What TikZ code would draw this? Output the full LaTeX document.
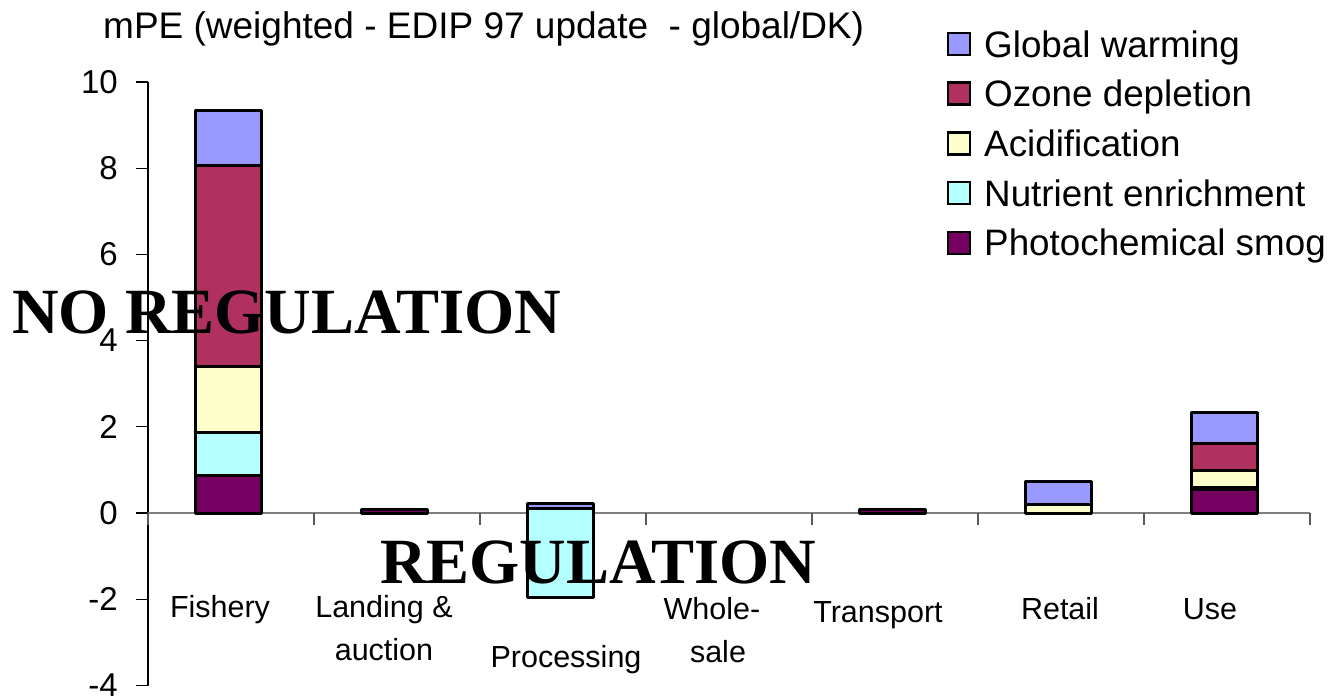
\documentclass[tikz,border=0pt]{standalone}
\usepackage{fontspec}
\setmainfont{Liberation Sans}
\newfontfamily\headserif{Liberation Serif}
\definecolor{gwcol}{HTML}{9999FF}
\definecolor{odcol}{HTML}{B03060}
\definecolor{accol}{HTML}{FFFFCC}
\definecolor{necol}{HTML}{B4FFFF}
\definecolor{pscol}{HTML}{760062}
% one stacked segment: colour, bar centre (px), lower value, upper value
\newcommand\barseg[4]{%
  \filldraw[segbox,fill=#1] ({#2-33},{513-43.1*#3}) rectangle ({#2+33},{513-43.1*#4});}
\begin{document}
\begin{tikzpicture}[x=1pt,y=-1pt,
  segbox/.style={draw=black,line width=3pt,line join=round},
  catlbl/.style={font=\fontsize{30.5}{36}\selectfont,inner sep=0pt,anchor=base},
  ticklbl/.style={font=\fontsize{33}{38}\selectfont,inner sep=0pt,anchor=east},
  leglbl/.style={font=\fontsize{36.8}{42}\selectfont,inner sep=0pt,anchor=base west},
  legbox/.style={draw=black,line width=2.5pt},
  bigword/.style={font=\headserif\bfseries\fontsize{64.5}{70}\selectfont,inner sep=0pt,anchor=base west}]
\useasboundingbox[fill=white] (0,0) rectangle (1336,699);

% value axis
\draw[black,line width=1.2pt] (148,82) -- (148,686);
\foreach \v/\t in {10/10,8/8,6/6,4/4,2/2,0/0,-2/-2,-4/-4}{
  \draw[black,line width=1.2pt] (136,{513-43.1*\v}) -- (148,{513-43.1*\v});
  \node[ticklbl] (tick\t) at (118,{513-43.1*\v}) {\t};
}
% category axis
\draw[gray,line width=1.6pt] (148,513) -- (1310,513);
\foreach \k in {0,...,7}{
  \draw[gray!70!black,line width=1.6pt] ({148+166*\k},513) -- ({148+166*\k},525);
}

% Fishery
\barseg{pscol}{228}{0}{0.86}
\barseg{necol}{228}{0.86}{1.86}
\barseg{accol}{228}{1.86}{3.39}
\barseg{odcol}{228}{3.39}{8.06}
\barseg{gwcol}{228}{8.06}{9.33}
% Landing & auction
\barseg{pscol}{394}{0}{0.08}
% Processing
\barseg{necol}{560}{-1.95}{0.1}
\barseg{gwcol}{560}{0.1}{0.21}
% Transport
\barseg{pscol}{892}{0}{0.08}
% Retail
\barseg{accol}{1058}{0}{0.2}
\barseg{gwcol}{1058}{0.2}{0.74}
% Use
\barseg{pscol}{1224}{0}{0.55}
\barseg{necol}{1224}{0.55}{0.6}
\barseg{accol}{1224}{0.6}{0.99}
\barseg{odcol}{1224}{0.99}{1.62}
\barseg{gwcol}{1224}{1.62}{2.34}

% category labels
\node[catlbl] (cfish) at (220,617) {Fishery};
\node[catlbl] (cland) at (384,617) {Landing \&};
\node[catlbl] (cauct) at (384,660) {auction};
\node[catlbl] (cproc) at (566,667) {Processing};
\node[catlbl] (cwhole) at (712,619) {Whole-};
\node[catlbl] (csale) at (718,662) {sale};
\node[catlbl] (ctrans) at (878,622) {Transport};
\node[catlbl] (cret) at (1060,619) {Retail};
\node[catlbl] (cuse) at (1210,619) {Use};

% axis title
\node[font=\fontsize{37}{42}\selectfont,inner sep=0pt,anchor=base west] (title) at (103,38)
  {mPE (weighted - EDIP 97 update \ - global/DK)};

% legend
\foreach \c/\txt [count=\i from 0] in {gwcol/Global warming,odcol/Ozone depletion,accol/Acidification,necol/Nutrient enrichment,pscol/Photochemical smog}{
  \filldraw[legbox,fill=\c] (948,{33+49.7*\i}) rectangle (970,{55+49.7*\i});
  \node[leglbl] (leg\i) at (984,{57+49.7*\i}) {\txt};
}

% overlaid headings
\node[bigword] (noreg) at (12,333) {NO REGULATION};
\node[bigword] (reg) at (380,583) {REGULATION};
\end{tikzpicture}
\end{document}
